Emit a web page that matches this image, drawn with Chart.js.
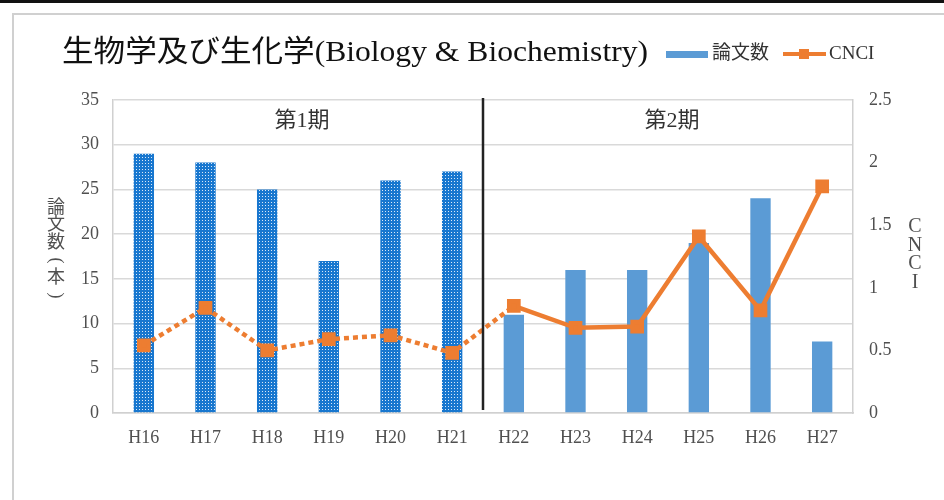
<!DOCTYPE html>
<html><head><meta charset="utf-8">
<script src="https://cdn.jsdelivr.net/npm/chart.js@4.4.1/dist/chart.umd.min.js"></script>
<style>html,body{margin:0;padding:0;background:#fff;}#wrap{width:944px;height:500px;position:relative;}</style>
</head><body><div id="wrap"><canvas id="c" width="944" height="500"></canvas></div>
<script>
const categories = ['H16','H17','H18','H19','H20','H21','H22','H23','H24','H25','H26','H27'];
const papers = [29, 28, 25, 17, 26, 27, 11, 16, 16, 19, 24, 8];
const cnci = [0.54, 0.84, 0.50, 0.59, 0.62, 0.48, 0.855, 0.68, 0.69, 1.41, 0.82, 1.81];
const leftTicks = [0,5,10,15,20,25,30,35];
const rightTicks = [0,0.5,1,1.5,2,2.5];
const periodLabels = ['第1期','第2期'];
const periodSplit = 6;
const titleText = '生物学及び生化学(Biology & Biochemistry)';
const seriesNames = ['論文数','CNCI'];
const leftAxisTitle = '論文数(本)';
const rightAxisTitle = 'CNCI';

const SERIF = '"Liberation Serif", "Noto Sans CJK JP", serif';
const BLUE = '#5B9BD5', ORANGE = '#ED7D31', TXT = '#505050';

const pat = document.getElementById('c').getContext('2d').createPattern((function(){
  const p = document.createElement('canvas'); p.width = 3; p.height = 3;
  const g = p.getContext('2d');
  g.fillStyle = '#1877cf'; g.fillRect(0,0,3,3);
  g.fillStyle = '#dbe9f7'; g.fillRect(1,1,1,1);
  return p;
})(),'repeat');

const barColors = papers.map((v,i)=> i < periodSplit ? pat : BLUE);

const decor = {
  id:'decor',
  beforeDraw(chart){
    const ctx = chart.ctx;
    ctx.save();
    ctx.fillStyle = '#fff'; ctx.fillRect(0,0,944,500);
    ctx.fillStyle = '#111'; ctx.fillRect(0,0,944,3);
    ctx.strokeStyle = '#d0d0d0'; ctx.lineWidth = 2;
    ctx.beginPath(); ctx.moveTo(13,500); ctx.lineTo(13,14); ctx.lineTo(944,14); ctx.stroke();
    ctx.restore();
  },
  afterDatasetsDraw(chart){
    const ctx = chart.ctx, x = chart.scales.x, a = chart.chartArea;
    ctx.save();
    const xd = (x.getPixelForValue(periodSplit-1) + x.getPixelForValue(periodSplit))/2;
    ctx.strokeStyle = '#222'; ctx.lineWidth = 2.5;
    ctx.beginPath(); ctx.moveTo(xd, a.top-2); ctx.lineTo(xd, a.bottom-3); ctx.stroke();
    ctx.fillStyle = '#333'; ctx.font = '22px ' + SERIF;
    ctx.textAlign = 'center'; ctx.textBaseline = 'middle';
    const c1 = (x.getPixelForValue(0)+x.getPixelForValue(periodSplit-1))/2 + 4;
    const c2 = (x.getPixelForValue(periodSplit)+x.getPixelForValue(categories.length-1))/2 + 4;
    ctx.fillText(periodLabels[0], c1, 121);
    ctx.fillText(periodLabels[1], c2, 121);
    ctx.restore();
  },
  afterDraw(chart){
    const ctx = chart.ctx;
    ctx.save();
    // title, fitted to the reference width
    ctx.fillStyle = '#111'; ctx.font = '30px ' + SERIF;
    ctx.textAlign = 'left'; ctx.textBaseline = 'middle';
    const w = ctx.measureText(titleText).width;
    ctx.save(); ctx.translate(62, 53); ctx.scale(586 / w, 1);
    ctx.fillText(titleText, 0, 0); ctx.restore();
    // legend
    ctx.fillStyle = BLUE; ctx.fillRect(666, 51, 42, 7);
    ctx.fillStyle = '#333'; ctx.font = '19px ' + SERIF;
    ctx.fillText(seriesNames[0], 712, 54);
    ctx.strokeStyle = ORANGE; ctx.lineWidth = 4;
    ctx.beginPath(); ctx.moveTo(783, 54); ctx.lineTo(826, 54); ctx.stroke();
    ctx.fillStyle = ORANGE; ctx.fillRect(799, 49, 10, 10);
    ctx.fillStyle = '#333'; ctx.fillText(seriesNames[1], 829, 54);
    // left axis title (vertical)
    ctx.font = '18px ' + SERIF; ctx.fillStyle = TXT; ctx.textAlign = 'center';
    Array.from(leftAxisTitle).forEach((ch,i)=>{
      const y = 208 + i*17.5;
      if (ch === '(' || ch === ')') {
        ctx.save(); ctx.translate(56, y); ctx.rotate(Math.PI/2);
        ctx.fillText(ch, 0, 0); ctx.restore();
      } else ctx.fillText(ch, 56, y);
    });
    ctx.font = '20px ' + SERIF;
    Array.from(rightAxisTitle).forEach((ch,i)=> ctx.fillText(ch, 915, 227 + i*18.5));
    ctx.restore();
  }
};

new Chart(document.getElementById('c'), {
  data: {
    labels: categories,
    datasets: [
      { type:'line', label:seriesNames[1], data:cnci, yAxisID:'y1', order:0,
        borderColor:ORANGE, backgroundColor:ORANGE, borderWidth:4.5,
        pointStyle:'rect', pointRadius:6.5, pointHoverRadius:6.5,
        tension:0,
        segment:{ borderDash: ctx => ctx.p0DataIndex < periodSplit ? [5,4] : undefined } },
      { type:'bar', label:seriesNames[0], data:papers, yAxisID:'y', order:1,
        backgroundColor:barColors, borderWidth:0,
        barPercentage:0.33, categoryPercentage:1.0 }
    ]
  },
  options: {
    responsive:false, animation:false, devicePixelRatio:1,
    layout:{ padding:{ top:100, left:0, right:0, bottom:0 } },
    plugins:{ legend:{display:false}, title:{display:false}, tooltip:{enabled:false} },
    scales:{
      x:{
        grid:{ display:false, drawTicks:false },
        border:{ display:true, color:'#d0d0d0', width:1.5 },
        ticks:{ color:TXT, font:{ family:SERIF, size:18 }, padding:14, maxRotation:0 },
        afterFit(s){ s.height = 87; }
      },
      y:{
        position:'left', min:0, max:35,
        afterBuildTicks(s){ s.ticks = leftTicks.map(v=>({value:v})); },
        grid:{ color:'#d9d9d9', lineWidth:1.5, drawTicks:false },
        border:{ display:true, color:'#d0d0d0', width:1.5 },
        ticks:{ color:TXT, font:{ family:SERIF, size:18 }, padding:14 },
        afterFit(s){ s.width = 113; }
      },
      y1:{
        position:'right', min:0, max:2.5,
        afterBuildTicks(s){ s.ticks = rightTicks.map(v=>({value:v})); },
        grid:{ display:false, drawTicks:false },
        border:{ display:true, color:'#d0d0d0', width:1.5 },
        ticks:{ color:TXT, font:{ family:SERIF, size:18 }, padding:16,
          callback:v=> String(v) },
        afterFit(s){ s.width = 91; }
      }
    }
  },
  plugins:[decor]
});
</script></body></html>
